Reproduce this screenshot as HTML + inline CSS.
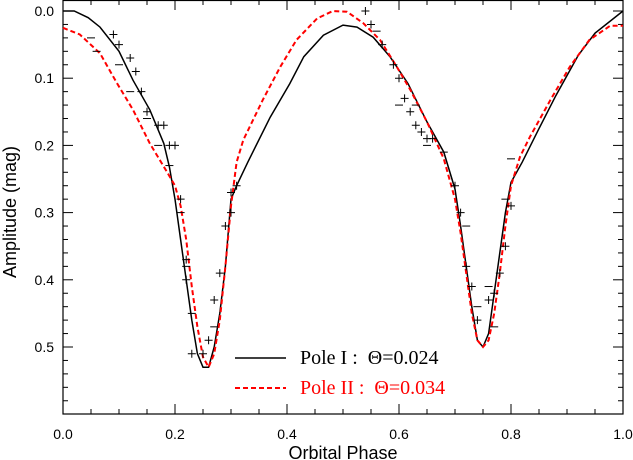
<!DOCTYPE html>
<html><head><meta charset="utf-8"><style>
body{margin:0;background:#fff}
svg{display:block}
</style></head><body>
<svg id="chart" width="633" height="460" xmlns="http://www.w3.org/2000/svg" font-family="Liberation Sans, sans-serif">
<g id="axes"></g>
<g id="marks"></g>
<text x="343" y="459" font-size="18" text-anchor="middle">Orbital Phase</text>
<text transform="translate(16,212) rotate(-90)" font-size="18" text-anchor="middle">Amplitude (mag)</text>
<g>
<line x1="235" y1="358" x2="286" y2="358" stroke="#000" stroke-width="1.5"/>
<text x="300" y="364" font-size="20" font-family="Liberation Serif, serif" xml:space="preserve">Pole I :  Θ=0.024</text>
<line x1="235" y1="388" x2="286" y2="388" stroke="#f00" stroke-width="2" stroke-dasharray="5,3"/>
<text x="300" y="394" font-size="20" fill="#f00" font-family="Liberation Serif, serif" xml:space="preserve">Pole II :  Θ=0.034</text>
</g>
</svg>
<script>
const xTicks=[0,0.2,0.4,0.6,0.8,1.0];
const yTicks=[0.0,0.1,0.2,0.3,0.4,0.5];
const pole1Phase=[0,0.02,0.045,0.066,0.1,0.125,0.155,0.18,0.19,0.2,0.21,0.22,0.23,0.24,0.25,0.26,0.27,0.28,0.29,0.3,0.31,0.33,0.37,0.405,0.43,0.465,0.5,0.525,0.554,0.584,0.616,0.65,0.68,0.7,0.71,0.72,0.73,0.74,0.75,0.76,0.77,0.78,0.79,0.8,0.82,0.85,0.88,0.92,0.95,1.0];
const pole1Mag=[0,0,0.01,0.024,0.06,0.103,0.147,0.197,0.232,0.28,0.34,0.4,0.46,0.51,0.53,0.53,0.5,0.45,0.38,0.28,0.26,0.225,0.158,0.108,0.068,0.036,0.021,0.024,0.039,0.068,0.108,0.165,0.21,0.265,0.32,0.38,0.44,0.49,0.5,0.48,0.42,0.36,0.3,0.255,0.225,0.175,0.126,0.066,0.033,0.0];
const pole2Phase=[0,0.03,0.066,0.096,0.125,0.155,0.186,0.2,0.21,0.22,0.23,0.24,0.25,0.26,0.27,0.28,0.29,0.3,0.31,0.322,0.357,0.388,0.417,0.454,0.482,0.507,0.536,0.566,0.596,0.62,0.65,0.68,0.7,0.71,0.72,0.73,0.74,0.75,0.76,0.77,0.78,0.79,0.8,0.816,0.834,0.87,0.905,0.94,0.977,1.0];
const pole2Mag=[0.025,0.035,0.063,0.107,0.147,0.197,0.24,0.26,0.29,0.34,0.41,0.47,0.515,0.53,0.51,0.46,0.38,0.29,0.225,0.192,0.132,0.083,0.043,0.011,0.0,0.001,0.018,0.043,0.083,0.117,0.165,0.22,0.28,0.33,0.39,0.45,0.49,0.5,0.49,0.45,0.39,0.32,0.26,0.217,0.187,0.133,0.083,0.043,0.022,0.022];
const obsPhase=[0.09,0.1,0.12,0.13,0.14,0.15,0.17,0.18,0.19,0.2,0.21,0.22,0.22,0.23,0.25,0.26,0.27,0.28,0.29,0.3,0.3,0.31,0.54,0.55,0.57,0.59,0.6,0.61,0.62,0.63,0.64,0.65,0.66,0.7,0.71,0.72,0.73,0.74,0.76,0.77,0.78,0.79,0.8];
const obsMag=[0.035,0.05,0.07,0.09,0.12,0.15,0.17,0.17,0.2,0.2,0.28,0.37,0.4,0.51,0.51,0.49,0.43,0.39,0.32,0.3,0.27,0.26,0.0,0.02,0.05,0.08,0.1,0.13,0.15,0.17,0.18,0.19,0.19,0.26,0.3,0.38,0.41,0.46,0.43,0.42,0.39,0.35,0.29];
const obsDashPhase=[0.05,0.06,0.1,0.12,0.15,0.17,0.19,0.21,0.22,0.23,0.27,0.56,0.6,0.63,0.65,0.68,0.72,0.74,0.76,0.77,0.79,0.8];
const obsDashMag=[0.04,0.06,0.08,0.12,0.16,0.2,0.23,0.3,0.38,0.45,0.47,0.03,0.14,0.14,0.2,0.21,0.32,0.44,0.41,0.47,0.28,0.22];

const X0=63,X1=623,Y0=11,PX=67.2,YB=414;
const xs=p=>X0+(X1-X0)*p;
const ys=m=>Y0+m*PX*10;
const NS='http://www.w3.org/2000/svg';
function mk(tag,parent){const e=document.createElementNS(NS,tag);parent.appendChild(e);return e;}
const axes=document.getElementById('axes');
const marks=document.getElementById('marks');
const box=mk('rect',axes);


box.setAttribute('x',X0);box.setAttribute('y',0.5);box.setAttribute('width',X1-X0);box.setAttribute('height',YB-0.5);
box.setAttribute('fill','none');box.setAttribute('stroke','#000');box.setAttribute('stroke-width','1.2');
for(let i=0;i<=20;i++){const p=i*0.05;const major=i%4===0;const len=major?10:5;
 for(const yy of [YB,0]){const t=mk('line',axes);
  
  
  t.setAttribute('x1',xs(p));t.setAttribute('x2',xs(p));t.setAttribute('y1',yy);t.setAttribute('y2',yy===0?len:YB-len);t.setAttribute('stroke','#000');}
}
xTicks.forEach(v=>{const t=mk('text',axes);
 
 
 t.setAttribute('x',xs(v));t.setAttribute('y',439);t.setAttribute('font-size','14');t.setAttribute('text-anchor','middle');t.textContent=v.toFixed(1);});
for(let i=0;i<=30;i++){const m=i*0.02;const major=i%5===0;const len=major?10:5;if(ys(m)>YB)break;
 for(const xx of [X0,X1]){const t=mk('line',axes);
  
  
  t.setAttribute('y1',ys(m));t.setAttribute('y2',ys(m));t.setAttribute('x1',xx);t.setAttribute('x2',xx===X0?X0+len:X1-len);t.setAttribute('stroke','#000');}
}
yTicks.forEach(v=>{const t=mk('text',axes);
 
 
 t.setAttribute('x',54);t.setAttribute('y',ys(v)+5);t.setAttribute('font-size','14');t.setAttribute('text-anchor','end');t.textContent=v.toFixed(1);});
function pathOf(px,py){return px.map((p,i)=>(i?'L':'M')+xs(p).toFixed(1)+','+ys(py[i]).toFixed(1)).join('');}
const l1=mk('path',marks);


l1.setAttribute('d',pathOf(pole1Phase,pole1Mag));l1.setAttribute('fill','none');l1.setAttribute('stroke','#000');l1.setAttribute('stroke-width','1.5');
const l2=mk('path',marks);


l2.setAttribute('d',pathOf(pole2Phase,pole2Mag));l2.setAttribute('fill','none');l2.setAttribute('stroke','#f00');l2.setAttribute('stroke-width','2');l2.setAttribute('stroke-dasharray','5,3');
obsPhase.forEach((p,i)=>{const x=xs(p),y=ys(obsMag[i]);const g=mk('path',marks);
 
 
 g.setAttribute('d',`M${x-4},${y}H${x+4}M${x},${y-4}V${y+4}`);g.setAttribute('stroke','#000');g.setAttribute('stroke-width','1');});
obsDashPhase.forEach((p,i)=>{const x=xs(p),y=ys(obsDashMag[i]);const g=mk('path',marks);
 
 
 g.setAttribute('d',`M${x-4},${y}H${x+4}`);g.setAttribute('stroke','#000');g.setAttribute('stroke-width','1');});
</script>
</body></html>
